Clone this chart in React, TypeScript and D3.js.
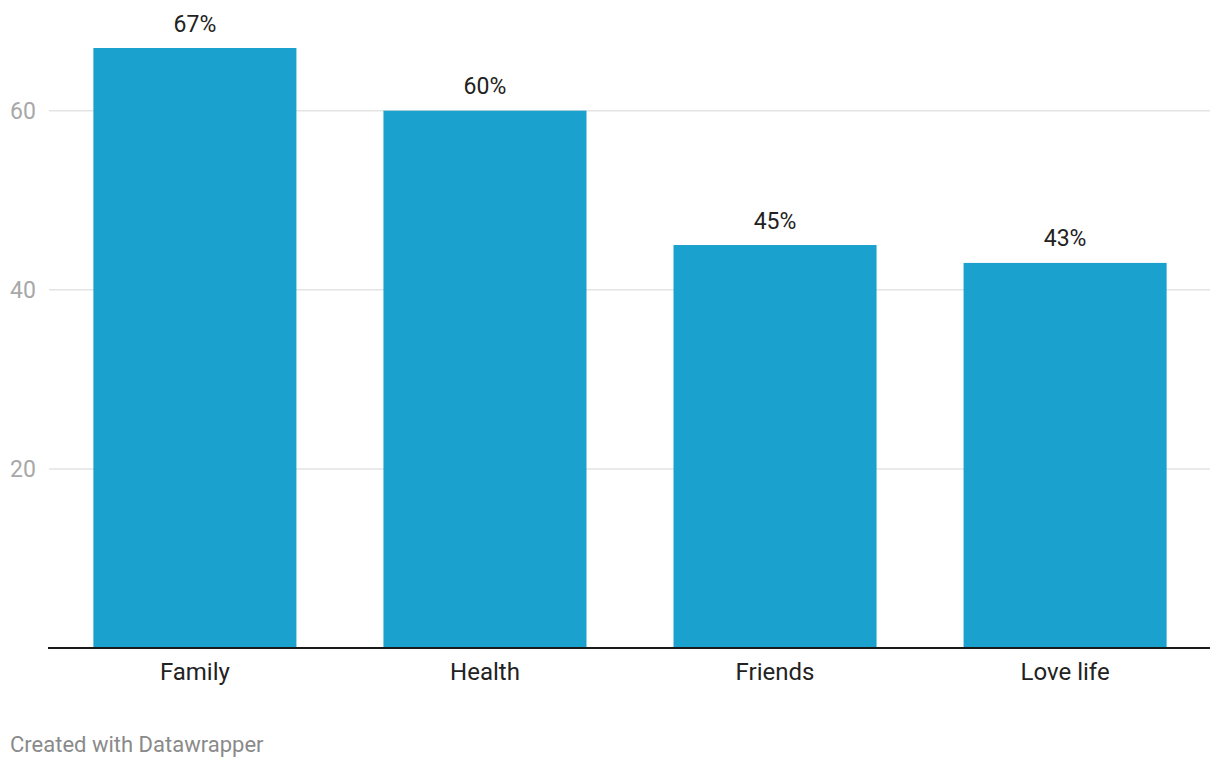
import React from "react";
import * as d3 from "d3";

const categories = ["Family", "Health", "Friends", "Love life"];
const values = [67, 60, 45, 43];
const yTicks = [20, 40, 60];
const footer = "Created with Datawrapper";

const W = 1220;
const H = 768;
const FONT = "Roboto, 'Noto Sans', sans-serif";

export default function App() {
  const x = d3
    .scaleBand<string>()
    .domain(categories)
    .range([49, 1211])
    .paddingInner(0.3)
    .paddingOuter(0.153);
  const y = d3.scaleLinear().domain([0, 67]).range([648, 48]);

  return (
    <div style={{ position: "absolute", left: 0, top: 0 }}>
      <svg width={W} height={H} style={{ display: "block", background: "#fff" }}>
        {yTicks.map((t) => (
          <g key={t}>
            <line x1={49} x2={1210} y1={y(t)} y2={y(t)} stroke="#e3e3e3" strokeWidth={1.5} />
            <text
              x={10}
              y={y(t)}
              dy="0.35em"
              fontFamily={FONT}
              fontSize={23}
              fill="#a8a8a8"
            >
              {t}
            </text>
          </g>
        ))}
        {categories.map((c, i) => (
          <g key={c}>
            <rect
              x={x(c)}
              y={y(values[i])}
              width={x.bandwidth()}
              height={y(0) - y(values[i])}
              fill="#1aa1cd"
            />
            <text
              x={(x(c) as number) + x.bandwidth() / 2}
              y={y(values[i]) - 16.5}
              textAnchor="middle"
              fontFamily={FONT}
              fontSize={23}
              fill="#222"
            >
              {values[i]}%
            </text>
            <text
              x={(x(c) as number) + x.bandwidth() / 2}
              y={680}
              textAnchor="middle"
              fontFamily={FONT}
              fontSize={24}
              fill="#222"
            >
              {c}
            </text>
          </g>
        ))}
        <line x1={48} x2={1210} y1={y(0)} y2={y(0)} stroke="#1a1a1a" strokeWidth={2} />
        <text x={10} y={752} fontFamily={FONT} fontSize={22} fill="#8a8a8a">
          {footer}
        </text>
      </svg>
    </div>
  );
}
